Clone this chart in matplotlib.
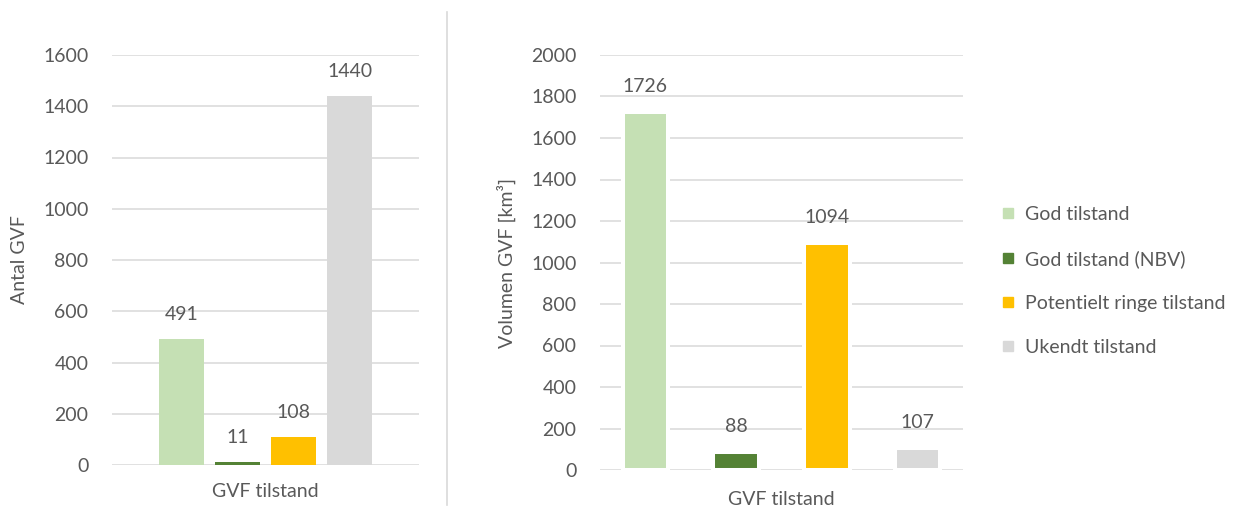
import matplotlib.pyplot as plt
from matplotlib.lines import Line2D

# data
series = ["God tilstand", "God tilstand (NBV)", "Potentielt ringe tilstand", "Ukendt tilstand"]
colors = ["#C5E0B4", "#548235", "#FFC000", "#D9D9D9"]
antal = [491, 11, 108, 1440]
volumen = [1726, 88, 1094, 107]
xlabel = "GVF tilstand"

plt.rcParams['font.family'] = ['Lato', 'DejaVu Sans']
txt = "#595959"
grid = "#D9D9D9"
fs = 14

fig = plt.figure(figsize=(12.57, 5.12), dpi=100)

def style(ax, ymax, step):
    ax.set_ylim(0, ymax)
    ax.set_yticks(range(0, ymax + 1, step))
    ax.set_xticks([])
    for s in ax.spines.values():
        s.set_visible(False)
    ax.set_axisbelow(True)
    ax.yaxis.grid(True, color=grid, lw=1.1)
    ax.tick_params(axis='y', length=0, pad=17, labelsize=fs, labelcolor=txt)

# left panel
ax1 = fig.add_axes([112 / 1257, 1 - 465 / 512, 307 / 1257, 410 / 512])
pos = range(len(antal))
ax1.bar(pos, antal, width=0.8, color=colors, zorder=2)
ax1.set_xlim(1.5 - 2.74, 1.5 + 2.74)
style(ax1, 1600, 200)
for p, v in zip(pos, antal):
    ax1.annotate(str(v), (p, v), xytext=(0, 18), textcoords='offset points',
                 ha='center', va='center', fontsize=fs, color=txt)
ax1.set_ylabel("Antal GVF", fontsize=fs, color=txt, labelpad=11)
ax1.set_xlabel(xlabel, fontsize=fs, color=txt, labelpad=13)

# right panel
ax2 = fig.add_axes([600 / 1257, 1 - 470 / 512, 363 / 1257, 415 / 512])
ax2.bar(pos, volumen, width=0.5, color=colors, edgecolor='white', lw=2.9, zorder=2)
ax2.set_xlim(-0.5, 3.5)
style(ax2, 2000, 200)
for p, v in zip(pos, volumen):
    ax2.annotate(str(v), (p, v), xytext=(0, 18), textcoords='offset points',
                 ha='center', va='center', fontsize=fs, color=txt)
ax2.set_ylabel("Volumen GVF [km³]", fontsize=fs, color=txt, labelpad=11)
ax2.set_xlabel(xlabel, fontsize=fs, color=txt, labelpad=15)

# separator
fig.add_artist(Line2D([447 / 1257, 447 / 1257], [1 - 505 / 512, 1 - 12 / 512],
                      color=grid, lw=1.2))

handles = [Line2D([], [], marker='s', ls='', markersize=6.5, color=c) for c in colors]
leg = fig.legend(handles, series, loc='center left', bbox_to_anchor=(992 / 1257, 1 - 281 / 512),
                 frameon=False, fontsize=fs, labelspacing=1.4, handlelength=0.6,
                 handletextpad=0.6, borderpad=0)
for t in leg.get_texts():
    t.set_color(txt)

fig.savefig("out.png", dpi=100)
